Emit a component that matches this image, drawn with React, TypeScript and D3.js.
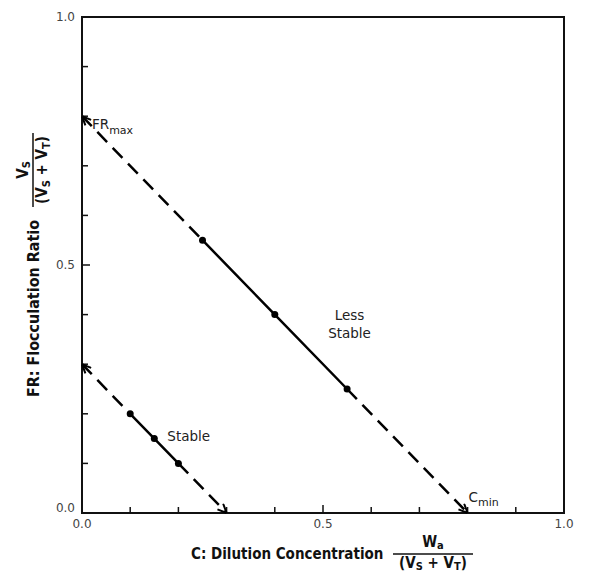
import React from 'react';
import * as d3 from 'd3';

// intercepts of each line (FR max on the y axis, C min on the x axis)
const lineNames = ['Less Stable', 'Stable'];
const frMax = [0.8, 0.3];
const cMin = [0.8, 0.3];

// measured points on each line
const measuredC = [
  [0.25, 0.4, 0.55],
  [0.1, 0.15, 0.2],
];
const measuredFR = [
  [0.55, 0.4, 0.25],
  [0.2, 0.15, 0.1],
];

const tickValues = [0, 0.1, 0.2, 0.3, 0.4, 0.5, 0.6, 0.7, 0.8, 0.9, 1.0];
const tickLabels = ['0.0', '0.5', '1.0'];

const App = () => {
  //set width, height and margins
  const margin = { top: 17, left: 82, right: 31, bottom: 60 };
  const W = 595;
  const H = 573;
  const width = W - margin.left - margin.right;
  const height = H - margin.top - margin.bottom;

  const x = d3.scaleLinear().domain([0, 1]).range([0, width]);
  const y = d3.scaleLinear().domain([0, 1]).range([height, 0]);

  const line = d3
    .line<[number, number]>()
    .x((d) => x(d[0]))
    .y((d) => y(d[1]));

  const font = '"DejaVu Sans", Verdana, sans-serif';
  const titleFont = '"DejaVu Sans Condensed", "DejaVu Sans", sans-serif';
  const labelColor = '#444';

  return (
    <svg
      width={W}
      height={H}
      style={{ position: 'absolute', left: 0, top: 0, background: '#fff' }}
      fontFamily={font}
    >
      <defs>
        <marker
          id="arrow"
          viewBox="0 0 10 10"
          refX="10"
          refY="5"
          markerWidth="10"
          markerHeight="10"
          markerUnits="userSpaceOnUse"
          orient="auto-start-reverse"
        >
          <path d="M1,1 L10,5 L1,9" fill="none" stroke="#000" strokeWidth="2" />
        </marker>
      </defs>
      <g transform={`translate(${margin.left}, ${margin.top})`}>
        {/* frame */}
        <rect x={0} y={0} width={width} height={height} fill="none" stroke="#111" strokeWidth={2} />

        {/* x ticks, inward */}
        {tickValues.slice(1, -1).map((t) => (
          <line
            key={'xt' + t}
            x1={x(t)}
            x2={x(t)}
            y1={height}
            y2={height - (Math.abs(t - 0.5) < 1e-9 ? 8 : 6)}
            stroke="#111"
            strokeWidth={1.5}
          />
        ))}
        {/* y ticks, inward */}
        {tickValues.slice(1, -1).map((t) => (
          <line
            key={'yt' + t}
            y1={y(t)}
            y2={y(t)}
            x1={0}
            x2={Math.abs(t - 0.5) < 1e-9 ? 8 : 6}
            stroke="#111"
            strokeWidth={1.5}
          />
        ))}

        {/* tick labels */}
        {tickLabels.map((l) => (
          <text
            key={'xl' + l}
            x={x(+l)}
            y={height + 15}
            textAnchor="middle"
            fontSize={12}
            fill={labelColor}
          >
            {l}
          </text>
        ))}
        {tickLabels.map((l) => (
          <text
            key={'yl' + l}
            x={-7}
            y={y(+l) + (l === '0.0' ? -1 : 4)}
            textAnchor="end"
            fontSize={12}
            fill={labelColor}
          >
            {l}
          </text>
        ))}

        {/* lines */}
        {lineNames.map((name, i) => {
          const pts = measuredC[i].map((c, j) => [c, measuredFR[i][j]] as [number, number]);
          const start: [number, number] = [0, frMax[i]];
          const end: [number, number] = [cMin[i], 0];
          return (
            <g key={name}>
              <path
                d={line([start, pts[0]]) as string}
                fill="none"
                stroke="#000"
                strokeWidth={2.5}
                strokeDasharray="14,8"
                markerStart="url(#arrow)"
              />
              <path d={line(pts) as string} fill="none" stroke="#000" strokeWidth={2.5} />
              <path
                d={line([pts[pts.length - 1], end]) as string}
                fill="none"
                stroke="#000"
                strokeWidth={2.5}
                strokeDasharray="14,8"
                markerEnd="url(#arrow)"
              />
              {pts.map((p, j) => (
                <circle key={j} cx={x(p[0])} cy={y(p[1])} r={3.5} fill="#000" />
              ))}
            </g>
          );
        })}

        {/* annotations */}
        <text x={x(0) + 10} y={y(frMax[0]) + 13} fontSize={13.5} fill="#222">
          FR<tspan fontSize={11} dy={5}>max</tspan>
        </text>
        <text x={x(cMin[0]) + 1} y={y(0) - 11} fontSize={13.5} fill="#222">
          C<tspan fontSize={11} dy={4}>min</tspan>
        </text>
        <text x={x(0.177)} y={y(0.15) + 2} fontSize={13.5} fill="#222">
          Stable
        </text>
        <text textAnchor="middle" fontSize={13.5} fill="#222">
          <tspan x={x(0.555)} y={y(0.39)}>Less</tspan>
          <tspan x={x(0.555)} y={y(0.39) + 18}>Stable</tspan>
        </text>
      </g>

      {/* x axis title */}
      <text x={191} y={559} fontSize={15} fontWeight="bold" fill="#111" fontFamily={titleFont}>
        C: Dilution Concentration
      </text>
      <text x={433} y={547} textAnchor="middle" fontSize={15} fontWeight="bold" fill="#111" fontFamily={titleFont}>
        W<tspan fontSize={11} dy={2}>a</tspan>
      </text>
      <line x1={393} x2={473} y1={554} y2={554} stroke="#111" strokeWidth={1.5} />
      <text x={433} y={568} textAnchor="middle" fontSize={15} fontWeight="bold" fill="#111" fontFamily={titleFont}>
        (V<tspan fontSize={11} dy={2}>S</tspan>
        <tspan dy={-2}> + V</tspan>
        <tspan fontSize={11} dy={2}>T</tspan>
        <tspan dy={-2}>)</tspan>
      </text>

      {/* y axis title */}
      <g transform="translate(33, 397) rotate(-90)" fontFamily={titleFont} fontWeight="bold" fill="#111">
        <text x={0} y={6} fontSize={16} textLength={177} lengthAdjust="spacingAndGlyphs">
          FR: Flocculation Ratio
        </text>
        <text x={227} y={-5} textAnchor="middle" fontSize={15}>
          V<tspan fontSize={11} dy={2}>S</tspan>
        </text>
        <line x1={190} x2={264} y1={0} y2={0} stroke="#111" strokeWidth={1.5} />
        <text x={227} y={14} textAnchor="middle" fontSize={15}>
          (V<tspan fontSize={11} dy={3}>S</tspan>
          <tspan dy={-3}> + V</tspan>
          <tspan fontSize={11} dy={3}>T</tspan>
          <tspan dy={-3}>)</tspan>
        </text>
      </g>
    </svg>
  );
};

export default App;
